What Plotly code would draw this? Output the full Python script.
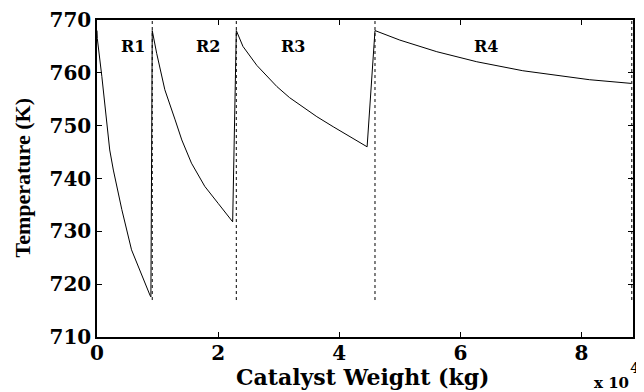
import plotly.graph_objects as go

# Catalyst weight (x 10^4 kg) and temperature (K) along the reactor train
weight = [0.0, 0.005, 0.08, 0.16, 0.21, 0.27, 0.35, 0.41, 0.57, 0.74, 0.875, 0.89,
          0.912, 0.985, 1.12, 1.29, 1.40, 1.56, 1.78, 2.00, 2.22, 2.24,
          2.30, 2.41, 2.64, 2.97, 3.18, 3.30, 3.63, 3.90, 4.17, 4.46,
          4.59, 5.00, 5.61, 6.27, 7.03, 8.13, 8.82]
temperature = [768.0, 766.5, 759.3, 750.5, 745.4, 741.6, 737.2, 734.1, 726.5, 721.5, 717.9, 717.6,
               768.0, 763.7, 756.8, 751.1, 747.3, 742.9, 738.5, 735.3, 731.9, 731.8,
               768.0, 765.0, 761.4, 757.4, 755.3, 754.3, 751.7, 749.8, 747.9, 746.0,
               768.0, 766.2, 764.0, 762.1, 760.4, 758.7, 758.0]

# Reactor outlet boundaries (x 10^4 kg)
boundaries = [0.912, 2.30, 4.59, 8.83]
boundary_span = [717, 770]

reactor_labels = ["R1", "R2", "R3", "R4"]
label_x = [0.59, 1.83, 3.23, 6.43]
label_y = [764.9, 764.9, 764.9, 764.9]

x_ticks = [0, 2, 4, 6, 8]
y_ticks = [710, 720, 730, 740, 750, 760, 770]

WIDE = "DejaVu Serif"
NARROW = "Liberation Serif"

fig = go.Figure()
for b in boundaries:
    fig.add_trace(go.Scatter(x=[b, b], y=boundary_span, mode="lines",
                             line=dict(color="black", width=1, dash="dot"),
                             showlegend=False, hoverinfo="skip"))
fig.add_trace(go.Scatter(x=weight, y=temperature, mode="lines",
                         line=dict(color="black", width=1), showlegend=False))

for t, xx, yy in zip(reactor_labels, label_x, label_y):
    fig.add_annotation(x=xx, y=yy, text=t, showarrow=False, xanchor="center",
                       font=dict(family=WIDE, size=16, color="black", weight="bold"))

fig.add_annotation(xref="paper", yref="paper", x=(362 - 97) / 536, y=0, yshift=-40,
                   xanchor="center", yanchor="middle", text="Catalyst Weight (kg)",
                   showarrow=False,
                   font=dict(family=WIDE, size=22, color="black", weight="bold"))
fig.add_annotation(xref="paper", yref="paper", x=(631 - 97) / 536, y=0, xanchor="right",
                   yanchor="middle", yshift=-46, text="x 10", showarrow=False,
                   font=dict(family=WIDE, size=15, color="black", weight="bold"))
fig.add_annotation(xref="paper", yref="paper", x=(635 - 97) / 536, y=0,
                   xanchor="center", yanchor="middle", yshift=-31, text="4",
                   showarrow=False,
                   font=dict(family=WIDE, size=15, color="black", weight="bold"))
fig.add_annotation(xref="paper", yref="paper", x=0, y=0.5, xshift=-75, textangle=-90,
                   xanchor="center", yanchor="middle", text="Temperature (K)",
                   showarrow=False,
                   font=dict(family=NARROW, size=22, color="black", weight="bold"))

axis_common = dict(showline=True, linecolor="black", linewidth=1.5, mirror="ticks",
                   ticks="inside", ticklen=5, tickcolor="black", tickwidth=1,
                   showgrid=False, zeroline=False, automargin=False,
                   tickfont=dict(family=WIDE, size=20, color="black", weight="bold"))

fig.update_xaxes(range=[0, 8.85], tickvals=x_ticks, ticktext=[str(v) for v in x_ticks],
                 ticklabelstandoff=-3, **axis_common)
fig.update_yaxes(range=[710, 770], tickvals=y_ticks, ticktext=[str(v) for v in y_ticks], **axis_common)

# page body adds an 8px offset; figure sized so the plot area lands where the reference has it
fig.update_layout(width=636, height=384, margin=dict(l=89, r=11, t=12, b=55, autoexpand=False),
                  plot_bgcolor="white", paper_bgcolor="white")

fig.write_html("out.html")
